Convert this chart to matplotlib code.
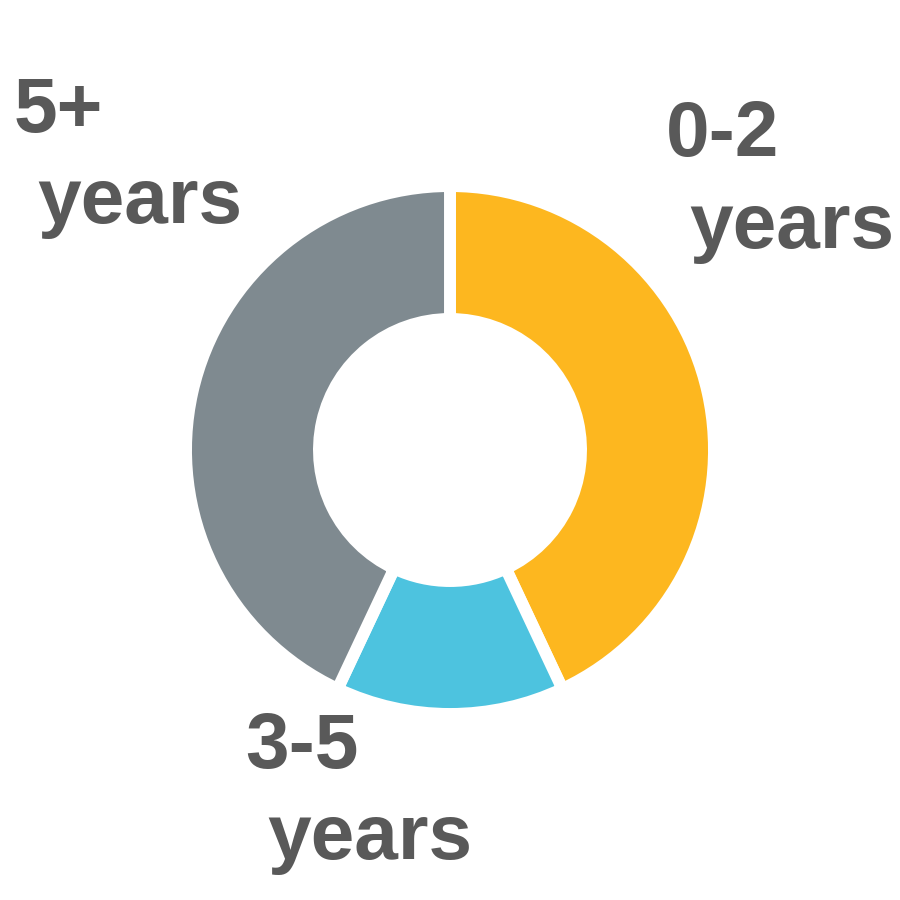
import matplotlib
matplotlib.use('Agg')
import matplotlib.pyplot as plt

plt.rcParams['font.family'] = ['Liberation Sans', 'DejaVu Sans']

labels = ['0-2', '3-5', '5+']
shares = [43, 14, 43]
colors = ['#FDB71F', '#4DC3DF', '#7F8A90']

txt_color = '#595959'

fig = plt.figure(figsize=(9, 9), dpi=100)
ax = fig.add_axes([0, 0, 1, 1])

ax.pie(shares, colors=colors, startangle=90, counterclock=False,
       center=(450, 450), radius=264, frame=True,
       wedgeprops=dict(width=133, edgecolor='white', linewidth=8.6))
ax.set_xlim(0, 900)
ax.set_ylim(0, 900)
ax.set_aspect('equal')
ax.axis('off')

# label positions in pixels (left x, baseline y from top): first line, second line
pos = {
    '5+': ((14, 132), (37, 223)),
    '0-2': ((666, 156), (689, 248)),
    '3-5': ((245, 768), (267, 859)),
}
for lab in labels:
    (x1, y1), (x2, y2) = pos[lab]
    fig.text(x1 / 900, 1 - y1 / 900, lab, fontsize=56.5, fontweight='bold',
             color=txt_color, ha='left', va='baseline')
    fig.text(x2 / 900, 1 - y2 / 900, 'years', fontsize=56.5, fontweight='bold',
             color=txt_color, ha='left', va='baseline')

fig.savefig('out.png', dpi=100, facecolor='white')
